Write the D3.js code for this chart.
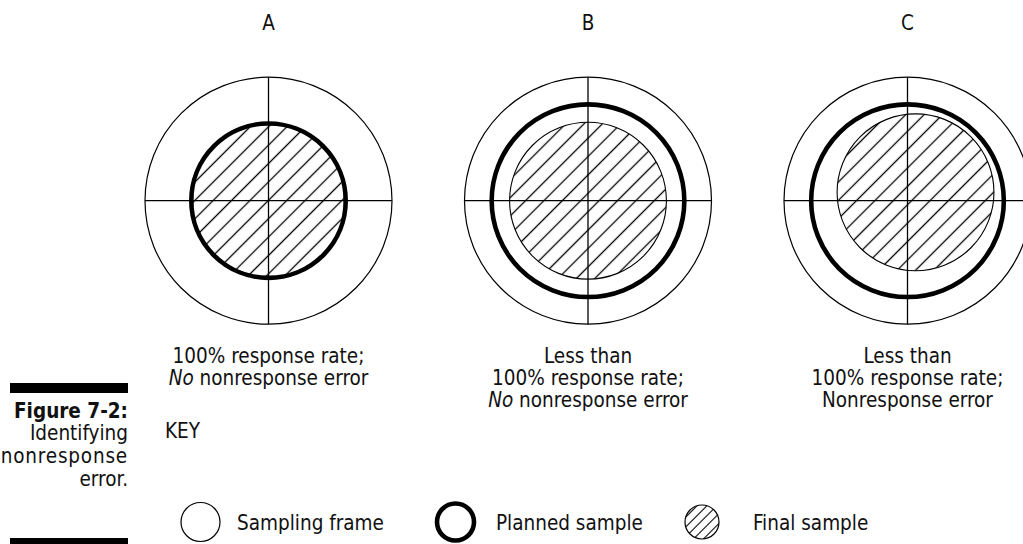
<!DOCTYPE html>
<html>
<head>
<meta charset="utf-8">
<script src="https://cdn.jsdelivr.net/npm/d3@7/dist/d3.min.js"></script>
<style>
  html, body { margin: 0; padding: 0; background: #fff; }
  svg { display: block; }
  text { font-family: "DejaVu Sans Condensed", "Liberation Sans Narrow", "Liberation Sans", sans-serif; fill: #111; }
</style>
</head>
<body>
<svg id="chart" width="1023" height="544"></svg>
<script>
// ---- data ----
const panelLabels = ["A", "B", "C"];
// radii in relative units (sampling frame = 100)
const frameRadius   = [100, 100, 100];
const plannedRadius = [62.5, 78, 78];
const finalRadius   = [62.5, 63.5, 63.5];
const finalOffsetX  = [0, 0, 6.5];
const finalOffsetY  = [0, 0, -6.8];
const captionLines = [
  [["100% response rate;"], [["No", true], [" nonresponse error", false]]],
  [["Less than"], ["100% response rate;"], [["No", true], [" nonresponse error", false]]],
  [["Less than"], ["100% response rate;"], ["Nonresponse error"]]
];
const figureLabel = "Figure 7-2:";
const figureTitle = ["Identifying", "nonresponse", "error."];
const keyLabel = "KEY";
const legendLabels = ["Sampling frame", "Planned sample", "Final sample"];
const legendKinds = ["frame", "planned", "final"];

// ---- layout ----
const svg = d3.select("#chart");
const W = 1023, H = 544;
const FS = 20.5;
const x = d3.scalePoint().domain(panelLabels).range([268.5, 907.5]);
const cy = 200.7;
const r = d3.scaleLinear().domain([0, 100]).range([0, 123.5]);

const defs = svg.append("defs");
function hatch(id, spacing, sw) {
  const p = defs.append("pattern")
    .attr("id", id)
    .attr("patternUnits", "userSpaceOnUse")
    .attr("width", spacing).attr("height", spacing)
    .attr("patternTransform", "rotate(45)");
  p.append("line").attr("x1", spacing / 2).attr("y1", -1).attr("x2", spacing / 2).attr("y2", spacing + 1)
    .attr("stroke", "#000").attr("stroke-width", sw);
}
hatch("hatchBig", 13, 1.3);
hatch("hatchSmall", 7, 1.1);

const panels = panelLabels.map((k, i) => ({
  key: k, cx: x(k),
  frame: frameRadius[i], planned: plannedRadius[i], final: finalRadius[i],
  dx: finalOffsetX[i], dy: finalOffsetY[i], lines: captionLines[i]
}));

const g = svg.selectAll("g.panel").data(panels).join("g").attr("class", "panel");

// sampling frame
g.append("circle")
  .attr("cx", d => d.cx).attr("cy", cy).attr("r", d => r(d.frame))
  .attr("fill", "none").attr("stroke", "#000").attr("stroke-width", 1.2);

// final sample (hatched)
g.append("circle")
  .attr("cx", d => d.cx + r(d.dx)).attr("cy", d => cy + r(d.dy)).attr("r", d => r(d.final))
  .attr("fill", "url(#hatchBig)").attr("stroke", "#000").attr("stroke-width", 1.1);

// crosshair
g.append("line")
  .attr("x1", d => d.cx - r(d.frame)).attr("x2", d => Math.min(W, d.cx + r(d.frame)))
  .attr("y1", cy).attr("y2", cy).attr("stroke", "#000").attr("stroke-width", 1.3);
g.append("line")
  .attr("x1", d => d.cx).attr("x2", d => d.cx)
  .attr("y1", cy - r(100)).attr("y2", cy + r(100)).attr("stroke", "#000").attr("stroke-width", 1.3);

// planned sample (thick)
g.append("circle")
  .attr("cx", d => d.cx).attr("cy", cy).attr("r", d => r(d.planned))
  .attr("fill", "none").attr("stroke", "#000").attr("stroke-width", 4.6);

// panel letters
g.append("text")
  .attr("x", d => d.cx).attr("y", 30)
  .attr("text-anchor", "middle").attr("font-size", FS)
  .text(d => d.key);

// captions
const capY = [363, 385, 407];
g.each(function(d) {
  const t = d3.select(this).append("text")
    .attr("text-anchor", "middle").attr("font-size", FS);
  d.lines.forEach((line, li) => {
    const ts = t.append("tspan").attr("x", d.cx).attr("y", capY[li]);
    if (typeof line[0] === "string") {
      ts.text(line[0]);
    } else {
      line.forEach(([s, it]) => ts.append("tspan").attr("font-style", it ? "italic" : "normal").text(s));
    }
  });
});

// left side caption bars
svg.append("rect").attr("x", 10).attr("y", 383).attr("width", 118).attr("height", 10).attr("fill", "#000");
svg.append("rect").attr("x", 10).attr("y", 538).attr("width", 118).attr("height", 6).attr("fill", "#000");

svg.append("text").attr("x", 128).attr("y", 418).attr("text-anchor", "end")
  .attr("font-size", FS).attr("font-weight", "bold").text(figureLabel);
svg.append("g").selectAll("text").data(figureTitle).join("text")
  .attr("x", 128).attr("y", (d, i) => 440 + i * 23).attr("text-anchor", "end")
  .attr("font-size", FS).attr("letter-spacing", (d, i) => i === 1 ? 0.8 : 0).text(d => d);

// key
svg.append("text").attr("x", 165).attr("y", 438).attr("font-size", FS).text(keyLabel);

const legendCx = { frame: 200.5, planned: 455.5, final: 702 };
const legendR = { frame: 19.5, planned: 18.5, final: 17 };
const legendTextX = { frame: 237, planned: 496, final: 753 };
const lg = svg.selectAll("g.legend").data(legendKinds).join("g").attr("class", "legend");
lg.append("circle")
  .attr("cx", d => legendCx[d]).attr("cy", 522)
  .attr("r", d => legendR[d])
  .attr("fill", d => d === "final" ? "url(#hatchSmall)" : "#fff")
  .attr("stroke", "#000")
  .attr("stroke-width", d => d === "planned" ? 4.6 : 1.2);
lg.append("text")
  .attr("x", d => legendTextX[d]).attr("y", 530)
  .attr("font-size", FS)
  .text((d, i) => legendLabels[i]);
</script>
</body>
</html>
